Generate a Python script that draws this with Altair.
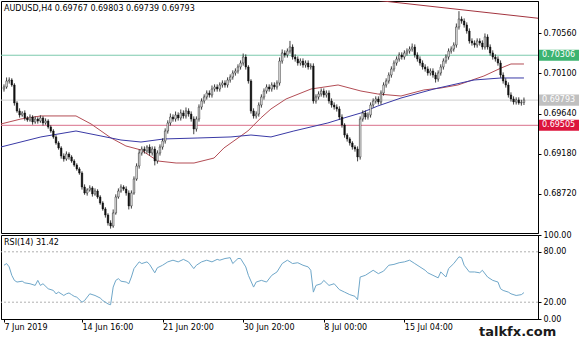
import altair as alt
import pandas as pd

# ---------------- data ----------------
title_text = "AUDUSD,H4  0.69767 0.69803 0.69739 0.69793"
first_open = 0.69920
closes = [
    0.69943, 0.70012, 0.70023, 0.69966, 0.69760, 0.69669, 0.69623, 0.69646, 0.69589, 0.69566,
    0.69600, 0.69543, 0.69577, 0.69554, 0.69589, 0.69532, 0.69554, 0.69486, 0.69440, 0.69372,
    0.69303, 0.69246, 0.69154, 0.69120, 0.69177, 0.69143, 0.69097, 0.69051, 0.69006, 0.68960,
    0.68800, 0.68731, 0.68766, 0.68789, 0.68720, 0.68754, 0.68686, 0.68617, 0.68549, 0.68480,
    0.68389, 0.68354, 0.68503, 0.68686, 0.68754, 0.68800, 0.68777, 0.68731, 0.68583, 0.68731,
    0.68891, 0.69040, 0.69189, 0.69234, 0.69212, 0.69257, 0.69189, 0.69234, 0.69097, 0.69189,
    0.69257, 0.69326, 0.69440, 0.69532, 0.69600, 0.69577, 0.69623, 0.69589, 0.69646, 0.69612,
    0.69669, 0.69634, 0.69577, 0.69463, 0.69577, 0.69714, 0.69783, 0.69829, 0.69874, 0.69852,
    0.69920, 0.69943, 0.69920, 0.69966, 0.69989, 0.69966, 0.70023, 0.70057, 0.70103, 0.70126,
    0.70172, 0.70217, 0.70286, 0.70172, 0.70012, 0.69669, 0.69612, 0.69634, 0.69737, 0.69829,
    0.69897, 0.69943, 0.69920, 0.69966, 0.69943, 0.69989, 0.70240, 0.70332, 0.70309, 0.70354,
    0.70400, 0.70286, 0.70263, 0.70217, 0.70240, 0.70194, 0.70217, 0.70172, 0.70183, 0.69783,
    0.69829, 0.69863, 0.69897, 0.69852, 0.69874, 0.69783, 0.69737, 0.69714, 0.69692, 0.69600,
    0.69509, 0.69394, 0.69349, 0.69303, 0.69257, 0.69234, 0.69143, 0.69577, 0.69646, 0.69600,
    0.69623, 0.69737, 0.69783, 0.69806, 0.69772, 0.69874, 0.69966, 0.70012, 0.70080, 0.70149,
    0.70217, 0.70263, 0.70309, 0.70286, 0.70332, 0.70354, 0.70377, 0.70400, 0.70309, 0.70263,
    0.70217, 0.70172, 0.70149, 0.70103, 0.70126, 0.70080, 0.70034, 0.70103, 0.70172, 0.70240,
    0.70286, 0.70354, 0.70377, 0.70423, 0.70629, 0.70720, 0.70697, 0.70652, 0.70583, 0.70469,
    0.70446, 0.70423, 0.70469, 0.70446, 0.70400, 0.70515, 0.70400, 0.70332, 0.70286, 0.70263,
    0.70217, 0.70080, 0.70012, 0.69966, 0.69852, 0.69806, 0.69772, 0.69795, 0.69760, 0.69767,
    0.69793,
]
# wick lengths beyond the body, in pips
wick_up = [
    3, 4, 3, 2, 2, 2, 3, 2, 3, 2,
    3, 2, 3, 2, 3, 2, 3, 2, 2, 2,
    2, 2, 2, 3, 3, 2, 2, 2, 2, 2,
    2, 3, 2, 3, 2, 3, 2, 2, 2, 2,
    2, 3, 4, 3, 3, 3, 2, 3, 3, 3,
    3, 3, 4, 3, 3, 2, 3, 3, 3, 3,
    3, 3, 3, 3, 4, 3, 4, 3, 4, 3,
    4, 3, 3, 3, 3, 3, 3, 3, 3, 3,
    4, 3, 3, 3, 3, 3, 3, 3, 3, 3,
    3, 3, 4, 3, 2, 2, 3, 3, 3, 3,
    3, 3, 3, 3, 3, 3, 4, 4, 3, 3,
    7, 3, 3, 3, 3, 3, 3, 3, 3, 3,
    3, 3, 3, 3, 3, 3, 3, 3, 3, 3,
    3, 2, 2, 2, 2, 2, 3, 3, 3, 3,
    3, 3, 3, 3, 3, 3, 3, 3, 3, 3,
    3, 3, 3, 3, 3, 3, 3, 4, 3, 3,
    3, 3, 3, 3, 3, 3, 3, 3, 3, 3,
    3, 3, 3, 3, 4, 9, 3, 3, 3, 3,
    3, 3, 3, 3, 3, 4, 3, 3, 3, 3,
    3, 3, 3, 3, 3, 3, 3, 3, 3, 3,
    3,
]
wick_dn = [
    3, 2, 3, 2, 3, 2, 3, 2, 3, 2,
    2, 3, 2, 3, 2, 3, 2, 2, 2, 2,
    2, 2, 3, 3, 2, 3, 2, 2, 2, 2,
    3, 2, 3, 2, 3, 2, 2, 2, 2, 3,
    3, 3, 2, 2, 2, 2, 2, 3, 4, 3,
    2, 2, 3, 3, 3, 3, 3, 3, 5, 3,
    3, 3, 3, 3, 3, 3, 3, 3, 3, 3,
    3, 3, 3, 6, 3, 3, 3, 3, 3, 3,
    3, 3, 3, 3, 3, 3, 3, 3, 3, 3,
    3, 3, 3, 3, 3, 3, 3, 3, 3, 3,
    3, 3, 3, 3, 3, 3, 3, 3, 3, 3,
    3, 3, 3, 3, 3, 3, 3, 3, 3, 3,
    3, 3, 3, 3, 3, 3, 3, 3, 3, 3,
    3, 3, 3, 3, 3, 3, 5, 3, 3, 3,
    3, 3, 3, 3, 3, 3, 3, 3, 3, 3,
    3, 3, 3, 3, 3, 3, 3, 3, 3, 3,
    3, 3, 3, 3, 3, 3, 4, 3, 3, 3,
    3, 3, 3, 3, 3, 3, 3, 3, 3, 3,
    3, 3, 3, 3, 3, 3, 3, 3, 3, 3,
    3, 3, 3, 3, 3, 3, 3, 3, 2, 3,
    3,
]

# moving averages (bar index, price)
ma_red_bar = [-1.2, 6.5, 14.2, 27.7, 33.5, 41.2, 46.9, 52.7, 59.2, 66.2, 73.1, 80.8, 84.6,
              93.8, 98.8, 102.7, 108.5, 118.1, 128.5, 137.3, 143.8, 152.7, 161.5, 168.1,
              174.6, 184.6, 191.2, 195.0, 200.0]
ma_red_val = [0.69520, 0.69577, 0.69612, 0.69612, 0.69520, 0.69360, 0.69269, 0.69223,
              0.69097, 0.69074, 0.69074, 0.69131, 0.69246, 0.69440, 0.69589, 0.69692,
              0.69806, 0.69920, 0.69966, 0.69897, 0.69863, 0.69840, 0.69909, 0.69932,
              0.69966, 0.70069, 0.70160, 0.70206, 0.70206]
ma_blue_bar = [-1.2, 14.2, 27.7, 37.3, 45.0, 52.7, 61.5, 74.6, 87.3, 95.0, 102.7, 111.5,
               124.6, 130.8, 137.3, 143.8, 152.7, 165.4, 180.8, 191.2, 200.0]
ma_blue_val = [0.69257, 0.69372, 0.69440, 0.69383, 0.69337, 0.69314, 0.69349, 0.69360,
               0.69372, 0.69394, 0.69372, 0.69440, 0.69532, 0.69589, 0.69646, 0.69726,
               0.69817, 0.69920, 0.70023, 0.70046, 0.70046]

trend_bar = [140, 206]
trend_val = [0.70945, 0.70727]

level_price = [0.70306, 0.69793, 0.69505]
level_line_color = ["#7cc9ad", "#cfcfcf", "#d9708a"]
level_box_color = ["#3cb371", "#c0c0c0", "#dc143c"]

price_ticks = [0.70560, 0.70100, 0.69640, 0.69180, 0.68720]

rsi_bar = [0, 1, 2, 3, 4, 5, 7, 8, 10, 12, 13, 14, 15, 17, 19, 20, 21, 23, 24, 25, 26, 27,
           28, 30, 31, 33, 35, 37, 38, 40, 41, 42, 43, 44, 45, 47, 48, 49, 50, 52, 53, 55,
           56, 58, 59, 61, 63, 65, 67, 69, 71, 73, 74, 76, 78, 80, 82, 83, 85, 87, 88, 90,
           91, 93, 94, 96, 97, 99, 101, 103, 105, 107, 109, 111, 113, 115, 117, 118, 119,
           120, 122, 123, 125, 127, 129, 131, 133, 135, 136, 137, 139, 140, 142, 144, 146,
           148, 150, 152, 154, 156, 158, 160, 162, 163, 165, 167, 168, 170, 171, 173, 175,
           176, 177, 179, 181, 183, 184, 186, 188, 190, 191, 192, 194, 195, 197, 199, 200]
rsi_val = [64, 66, 62, 52, 46, 44, 45, 43, 42, 40, 46, 40, 42, 36, 34, 30, 32, 28, 30, 31,
           29, 27, 26, 20, 22, 30, 28, 25, 22, 18, 17, 38, 46, 48, 45, 44, 42, 50, 60, 68,
           66, 68, 65, 55, 61, 64, 68, 70, 68, 71, 68, 60, 64, 68, 70, 68, 71, 70, 72, 73,
           66, 72, 72, 62, 52, 38, 44, 46, 44, 52, 56, 66, 70, 66, 67, 64, 62, 58, 32, 40,
           42, 46, 40, 42, 35, 32, 29, 27, 23, 50, 52, 54, 58, 54, 57, 64, 65, 67, 68, 70,
           66, 62, 58, 55, 52, 49, 56, 50, 60, 66, 74, 73, 64, 56, 56, 55, 58, 50, 46, 44,
           36, 34, 32, 30, 28, 29, 31.42]
rsi_ticks = [0, 20, 80, 100]
rsi_levels = [20, 80]

time_tick_bars = [0, 30, 61, 92, 123, 154]
time_tick_labels = ["7 Jun 2019", "14 Jun 16:00", "21 Jun 20:00", "30 Jun 20:00",
                    "8 Jul 00:00", "15 Jul 04:00"]

# ---------------- tables ----------------
n = len(closes)
opens = [first_open] + closes[:-1]
cdf = pd.DataFrame({"i": list(range(n)), "open": opens, "close": closes,
                    "up": wick_up[:n], "dn": wick_dn[:n]})
cdf["high"] = cdf[["open", "close"]].max(axis=1) + cdf["up"] * 0.0001
cdf["low"] = cdf[["open", "close"]].min(axis=1) - cdf["dn"] * 0.0001
cdf["x0"] = cdf["i"] - 0.3
cdf["x1"] = cdf["i"] + 0.3

red_df = pd.DataFrame({"i": ma_red_bar, "p": ma_red_val})
blue_df = pd.DataFrame({"i": ma_blue_bar, "p": ma_blue_val})
trend_df = pd.DataFrame({"i": trend_bar, "p": trend_val})
lev_df = pd.DataFrame({"p": level_price, "lc": level_line_color, "bc": level_box_color,
                       "label": [f"{v:.5f}" for v in level_price]})
rsi_df = pd.DataFrame({"i": rsi_bar, "v": rsi_val})

FONT = "DejaVu Sans"
W = 537
XS = alt.Scale(domain=[-1.15, 205.4], nice=False, zero=False)
YP = alt.Scale(domain=[0.68274, 0.70926], nice=False, zero=False)
YR = alt.Scale(domain=[0, 100], nice=False, zero=False)

price_axis = alt.Axis(orient="right", values=price_ticks, format=".5f", tickSize=3,
                      labelFont=FONT, labelFontSize=8, labelColor="black",
                      domainColor="black", tickColor="black", grid=False, title=None,
                      labelPadding=2)


def xq(f):
    return alt.X(f, type="quantitative", scale=XS, axis=None)


def yp(f):
    return alt.Y(f, type="quantitative", scale=YP, axis=price_axis)


base = alt.Chart(cdf)
levels = alt.Chart(lev_df).mark_rule(strokeWidth=1).encode(
    y=yp("p"), color=alt.Color("lc:N", scale=None))
red = alt.Chart(red_df).mark_line(color="#b34d55", strokeWidth=1, clip=True).encode(
    x=xq("i"), y=yp("p"))
blue = alt.Chart(blue_df).mark_line(color="#3a3aa6", strokeWidth=1, clip=True).encode(
    x=xq("i"), y=yp("p"))
wicks = base.mark_rule(color="#111111", strokeWidth=0.8).encode(
    x=xq("i"), y=yp("low"), y2="high")
bodies = base.mark_rect(stroke="#111111", strokeWidth=0.5).encode(
    x=xq("x0"), x2="x1", y=yp("open"), y2="close",
    fill=alt.condition("datum.close >= datum.open", alt.value("white"), alt.value("#111111")))
trend = alt.Chart(trend_df).mark_line(color="#a3343f", strokeWidth=1, clip=True).encode(
    x=xq("i"), y=yp("p"))
boxes = alt.Chart(lev_df).transform_calculate(
    lo="datum.p - 0.00063", hi="datum.p + 0.00063").mark_rect().encode(
    x=alt.value(W + 1), x2=alt.value(W + 41), y=yp("lo"), y2="hi",
    color=alt.Color("bc:N", scale=None))
box_text = alt.Chart(lev_df).mark_text(align="left", baseline="middle", font=FONT,
                                      fontSize=8, color="white").encode(
    x=alt.value(W + 4), y=yp("p"), text="label:N")
title = alt.Chart(pd.DataFrame({"t": [title_text]})).mark_text(
    align="left", baseline="middle", font=FONT, fontSize=8, color="black").encode(
    x=alt.value(3), y=alt.value(8), text="t:N")

price = alt.layer(levels, red, blue, wicks, bodies, trend, boxes, box_text, title).properties(
    width=W, height=232)

label_expr = ("[" + ",".join(f"'{s}'" for s in time_tick_labels) + "][indexof(["
              + ",".join(str(b) for b in time_tick_bars) + "], datum.value)]")
x_axis = alt.Axis(values=time_tick_bars, labelExpr=label_expr, labelAlign="left",
                  labelFont=FONT, labelFontSize=8, labelColor="black", tickSize=3,
                  tickColor="black", domainColor="black", grid=False, title=None,
                  labelPadding=1, labelFlush=False, labelOverlap=False, labelBound=False)
rsi_axis = alt.Axis(orient="right", values=rsi_ticks, format=".2f", tickSize=3,
                    labelFont=FONT, labelFontSize=8, labelColor="black",
                    domainColor="black", tickColor="black", grid=False, title=None,
                    labelPadding=2)

rsi_line = alt.Chart(rsi_df).mark_line(color="#6fa7c9", strokeWidth=1).encode(
    x=alt.X("i:Q", scale=XS, axis=x_axis), y=alt.Y("v:Q", scale=YR, axis=rsi_axis))
rsi_lv = alt.Chart(pd.DataFrame({"v": rsi_levels})).mark_rule(
    color="#b0b0b0", strokeDash=[2, 2], strokeWidth=1).encode(
    y=alt.Y("v:Q", scale=YR, axis=rsi_axis))
rsi_title = alt.Chart(pd.DataFrame({"t": ["RSI(14) 31.42"]})).mark_text(
    align="left", baseline="middle", font=FONT, fontSize=8, color="black").encode(
    x=alt.value(3), y=alt.value(8), text="t:N")
brand = alt.Chart(pd.DataFrame({"t": ["talkfx.com"]})).mark_text(
    align="left", baseline="middle", font=FONT, fontSize=13, fontWeight="bold",
    color="#1a1a1a").encode(x=alt.value(478), y=alt.value(97), text="t:N")

rsi = alt.layer(rsi_lv, rsi_line, rsi_title, brand).properties(width=W, height=84)

chart = alt.vconcat(price, rsi, spacing=2, bounds="flush").properties(
    padding=0, background="white"
).configure_view(stroke="black", strokeWidth=1)

chart.save("out.html", embed_options={"renderer": "svg", "actions": False})
